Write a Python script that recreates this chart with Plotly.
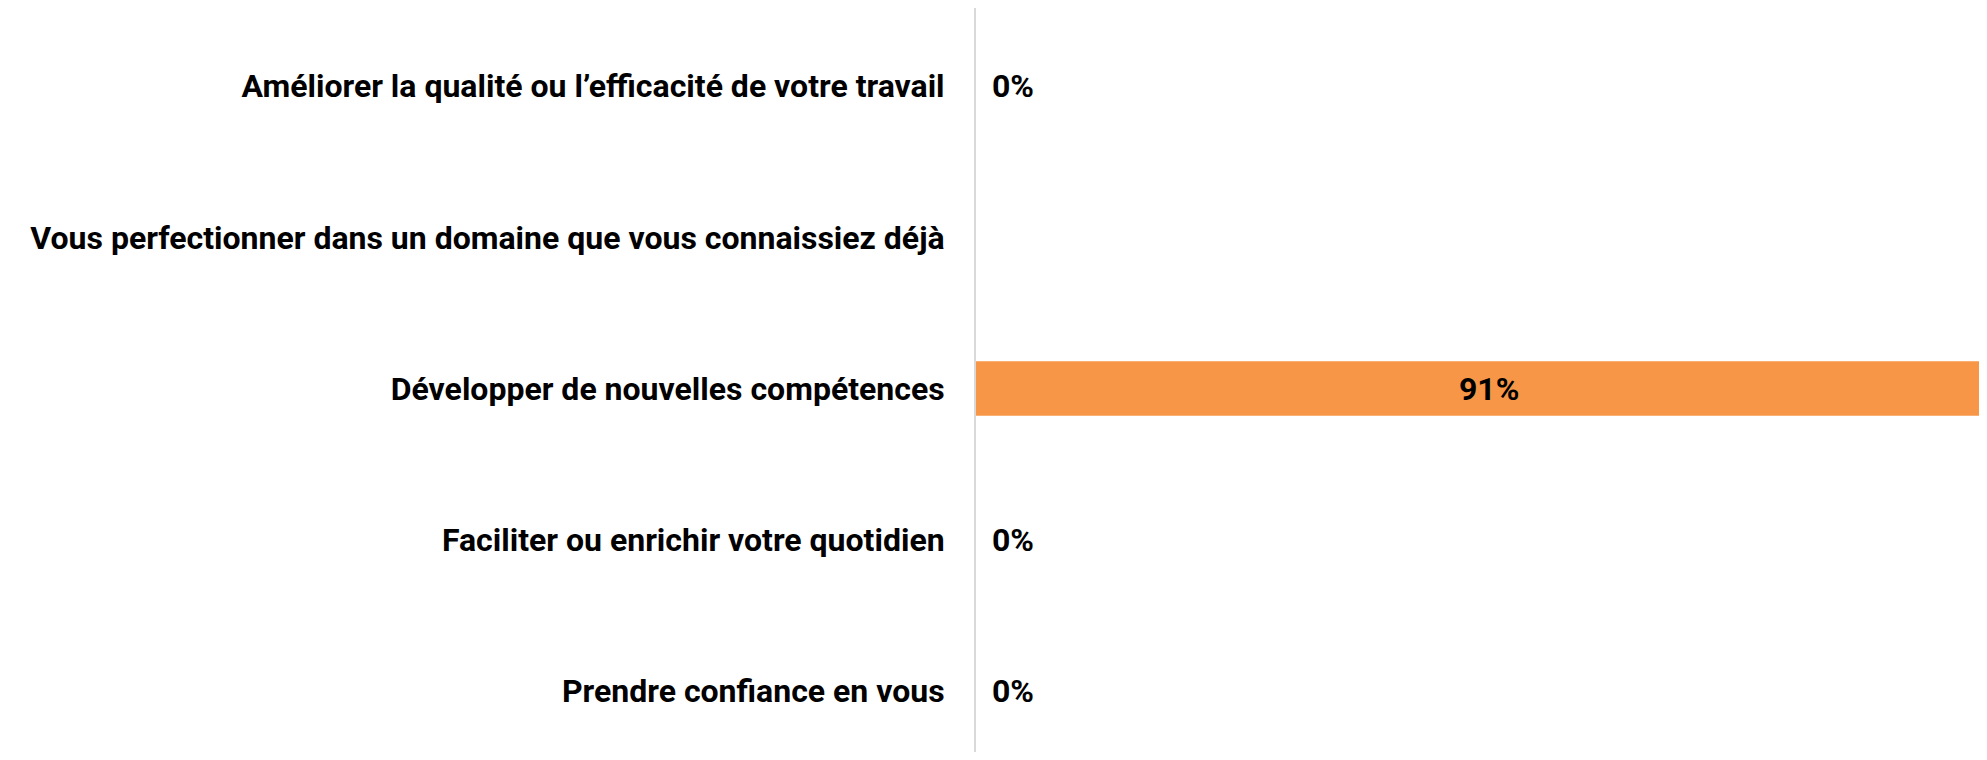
import plotly.graph_objects as go

categories = [
    "Améliorer la qualité ou l’efficacité de votre travail",
    "Vous perfectionner dans un domaine que vous connaissiez déjà",
    "Développer de nouvelles compétences",
    "Faciliter ou enrichir votre quotidien",
    "Prendre confiance en vous",
]
values = [0.0, None, 0.91, 0.0, 0.0]
labels = ["0%", "", "91%", "0%", "0%"]

FONT = "Roboto"
FS = 32
fig = go.Figure()
fig.add_trace(go.Bar(
    y=list(range(len(categories))), x=values, orientation="h",
    marker=dict(color="#F79646", line=dict(width=0)),
    width=0.36, hoverinfo="skip",
))

for i, (v, t) in enumerate(zip(values, labels)):
    if v is None or t == "":
        continue
    if v > 0:
        fig.add_annotation(x=v / 2, y=i, text="<b>%s</b>" % t, showarrow=False,
                           xanchor="center", yanchor="middle",
                           font=dict(family=FONT, size=FS, color="black"))
    else:
        fig.add_annotation(x=v, y=i, text="<b>%s</b>" % t, showarrow=False,
                           xanchor="left", yanchor="middle", xshift=14,
                           font=dict(family=FONT, size=FS, color="black"))

fig.update_layout(
    width=1979, height=744,
    margin=dict(l=968, r=0, t=0, b=0),
    paper_bgcolor="white", plot_bgcolor="white",
    showlegend=False,
    xaxis=dict(range=[0, 0.8967], visible=False, fixedrange=True),
    yaxis=dict(
        range=[4.403, -0.516],
        tickvals=list(range(len(categories))),
        ticktext=["<b>%s</b>" % c for c in categories],
        tickfont=dict(family=FONT, size=FS, color="black"),
        showgrid=False, zeroline=False,
        showline=True, linecolor="#D9D9D9", linewidth=2,
        ticks="", ticklabelstandoff=23, automargin=False,
    ),
)

fig.write_html("out.html")
